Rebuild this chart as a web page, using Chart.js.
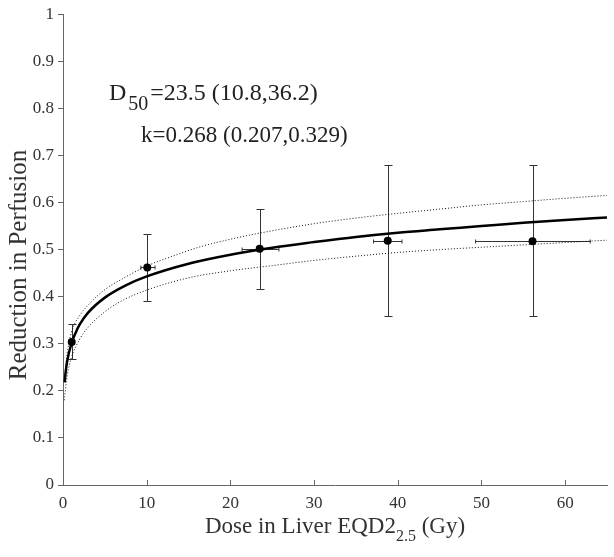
<!DOCTYPE html>
<html><head><meta charset="utf-8">
<script src="https://cdn.jsdelivr.net/npm/chart.js@4/dist/chart.umd.min.js"></script>
<style>html,body{margin:0;padding:0;background:#fff}#wrap{width:614px;height:557px}</style>
</head><body><div id="wrap"><canvas id="c" width="614" height="557"></canvas></div>
<script>
// Measured points (Dose in Gy, Reduction in Perfusion)
const doseMeasured      = [1.04, 10.07, 23.5, 38.8, 56.1];
const reductionMeasured = [0.304, 0.462, 0.502, 0.519, 0.518];
const reductionLow      = [0.268, 0.390, 0.417, 0.359, 0.359];
const reductionHigh     = [0.341, 0.533, 0.586, 0.679, 0.679];
const doseLow           = [0.75, 9.3, 21.4, 37.1, 49.3];
const doseHigh          = [1.3, 11.0, 25.8, 40.5, 63.0];

// Fitted curve
const fitDose      = [0.2, 0.3, 0.5, 1, 1.5, 2, 3, 5, 7.5, 10, 15, 20, 25, 30, 35, 40, 45, 50, 55, 60, 65];
const fitReduction = [0.218, 0.237, 0.263, 0.300, 0.323, 0.341, 0.366, 0.398, 0.424, 0.443, 0.470, 0.489, 0.504, 0.516, 0.527, 0.536, 0.543, 0.550, 0.557, 0.563, 0.568];

// Confidence bounds (dotted)
const upperDose      = [0.2, 0.5, 1, 2, 3, 5, 7, 10, 13.4, 16.4, 20, 23.5, 30, 35, 40, 45, 50, 55, 60, 65];
const upperReduction = [0.230, 0.280, 0.324, 0.360, 0.382, 0.415, 0.437, 0.465, 0.488, 0.506, 0.522, 0.535, 0.555, 0.567, 0.577, 0.586, 0.595, 0.602, 0.609, 0.615];
const lowerDose      = [0.15, 0.2, 0.5, 1, 2, 3, 5, 7, 10, 15, 20, 25, 30, 35, 40, 45, 50, 55, 60, 65];
const lowerReduction = [0.180, 0.188, 0.232, 0.270, 0.310, 0.335, 0.368, 0.391, 0.414, 0.440, 0.455, 0.466, 0.477, 0.486, 0.494, 0.500, 0.505, 0.510, 0.515, 0.520];

const xTicks = [0, 10, 20, 30, 40, 50, 60];
const xTickLabels = ['0', '10', '20', '30', '40', '50', '60'];
const yTicks = [0, 0.1, 0.2, 0.3, 0.4, 0.5, 0.6, 0.7, 0.8, 0.9, 1];
const yTickLabels = ['0', '0.1', '0.2', '0.3', '0.4', '0.5', '0.6', '0.7', '0.8', '0.9', '1'];

const annotLine1 = {main: 'D', sub: '50', rest: '=23.5 (10.8,36.2)'};
const annotLine2 = 'k=0.268 (0.207,0.329)';
const xTitle = {main: 'Dose in Liver EQD2', sub: '2.5', rest: ' (Gy)'};
const yTitle = 'Reduction in Perfusion';

const SERIF = '"Liberation Serif", "Times New Roman", serif';
const AXIS = '#666';
const TXT = '#333';

function pts(xs, ys) { return xs.map((x, i) => ({x: x, y: ys[i]})); }

const errorBars = {
  id: 'errorBars',
  beforeDatasetsDraw(chart) {
    const {ctx, scales: {x, y}} = chart;
    ctx.save();
    ctx.strokeStyle = '#333';
    ctx.lineWidth = 1;
    for (let i = 0; i < doseMeasured.length; i++) {
      const px = Math.round(x.getPixelForValue(doseMeasured[i])) + 0.5;
      const py = Math.round(y.getPixelForValue(reductionMeasured[i])) + 0.5;
      const yl = Math.round(y.getPixelForValue(reductionLow[i])) + 0.5;
      const yh = Math.round(y.getPixelForValue(reductionHigh[i])) + 0.5;
      const xl = x.getPixelForValue(doseLow[i]);
      const xh = x.getPixelForValue(doseHigh[i]);
      ctx.beginPath();
      ctx.moveTo(px, yl); ctx.lineTo(px, yh);
      ctx.moveTo(px - 4, yl); ctx.lineTo(px + 4, yl);
      ctx.moveTo(px - 4, yh); ctx.lineTo(px + 4, yh);
      ctx.moveTo(xl, py); ctx.lineTo(xh, py);
      ctx.moveTo(xl, py - 2); ctx.lineTo(xl, py + 2);
      ctx.moveTo(xh, py - 2); ctx.lineTo(xh, py + 2);
      ctx.stroke();
    }
    ctx.restore();
  }
};

function drawSubText(ctx, parts, big, small, cx, baseline, center, subDrop, gap) {
  ctx.font = big + 'px ' + SERIF;
  const w1 = ctx.measureText(parts.main).width;
  const w3 = ctx.measureText(parts.rest).width;
  ctx.font = small + 'px ' + SERIF;
  const w2 = ctx.measureText(parts.sub).width + gap;
  let x0 = center ? cx - (w1 + w2 + w3) / 2 : cx;
  ctx.textAlign = 'left';
  ctx.textBaseline = 'alphabetic';
  ctx.font = big + 'px ' + SERIF;
  ctx.fillText(parts.main, x0, baseline);
  ctx.font = small + 'px ' + SERIF;
  ctx.fillText(parts.sub, x0 + w1 + gap / 2, baseline + subDrop);
  ctx.font = big + 'px ' + SERIF;
  ctx.fillText(parts.rest, x0 + w1 + w2, baseline);
}

const decor = {
  id: 'decor',
  afterDraw(chart) {
    const {ctx, chartArea: ca, scales: {x, y}} = chart;
    ctx.save();
    // inward x ticks
    ctx.strokeStyle = AXIS;
    ctx.lineWidth = 1;
    ctx.beginPath();
    xTicks.forEach(v => {
      const px = Math.round(x.getPixelForValue(v)) + 0.5;
      ctx.moveTo(px, ca.bottom); ctx.lineTo(px, ca.bottom - 5);
    });
    ctx.stroke();
    // annotation
    ctx.fillStyle = '#222';
    drawSubText(ctx, annotLine1, 24, 20, 109, 100, false, 10, 4);
    ctx.font = '23px ' + SERIF;
    ctx.textAlign = 'left';
    ctx.textBaseline = 'alphabetic';
    ctx.fillText(annotLine2, 141, 142);
    // x title
    ctx.fillStyle = TXT;
    drawSubText(ctx, xTitle, 23, 16, (ca.left + ca.right) / 2, 533, true, 8, 0);
    // y title
    ctx.translate(26, 265);
    ctx.rotate(-Math.PI / 2);
    ctx.font = '25px ' + SERIF;
    ctx.textAlign = 'center';
    ctx.textBaseline = 'alphabetic';
    ctx.fillText(yTitle, 0, 0);
    ctx.restore();
  }
};

Chart.defaults.font.family = SERIF;
Chart.defaults.color = TXT;

new Chart(document.getElementById('c'), {
  type: 'scatter',
  data: {
    datasets: [
      {data: pts(upperDose, upperReduction), showLine: true, borderColor: '#111', borderWidth: 1, borderDash: [1, 2], pointRadius: 0, cubicInterpolationMode: 'monotone', fill: false},
      {data: pts(lowerDose, lowerReduction), showLine: true, borderColor: '#111', borderWidth: 1, borderDash: [1, 2], pointRadius: 0, cubicInterpolationMode: 'monotone', fill: false},
      {data: pts(fitDose, fitReduction), showLine: true, borderColor: '#000', borderWidth: 2.5, pointRadius: 0, cubicInterpolationMode: 'monotone', fill: false},
      {data: pts(doseMeasured, reductionMeasured), showLine: false, pointRadius: 4, pointBackgroundColor: '#000', pointBorderColor: '#000', pointBorderWidth: 0}
    ]
  },
  options: {
    responsive: false,
    animation: false,
    devicePixelRatio: 1,
    layout: {padding: {left: 0, right: 7, top: 12, bottom: 0}},
    plugins: {legend: {display: false}, tooltip: {enabled: false}},
    scales: {
      x: {
        type: 'linear', min: 0, max: 65,
        afterBuildTicks: s => { s.ticks = xTicks.map(v => ({value: v})); },
        afterFit: s => { s.height = 72; },
        ticks: {font: {size: 17}, color: TXT, padding: 8, maxRotation: 0, autoSkip: false,
                callback: (v) => { const i = xTicks.indexOf(v); return i >= 0 ? xTickLabels[i] : ''; }},
        grid: {drawOnChartArea: false, drawTicks: false},
        border: {display: true, color: AXIS, width: 1}
      },
      y: {
        type: 'linear', min: 0, max: 1,
        afterBuildTicks: s => { s.ticks = yTicks.map(v => ({value: v})); },
        afterFit: s => { s.width = 63; },
        ticks: {font: {size: 17}, color: TXT, padding: 4, autoSkip: false,
                callback: (v) => { const i = yTicks.findIndex(t => Math.abs(t - v) < 1e-9); return i >= 0 ? yTickLabels[i] : ''; }},
        grid: {drawOnChartArea: false, drawTicks: true, tickLength: 5, color: AXIS},
        border: {display: true, color: AXIS, width: 1}
      }
    }
  },
  plugins: [errorBars, decor]
});
</script></body></html>
